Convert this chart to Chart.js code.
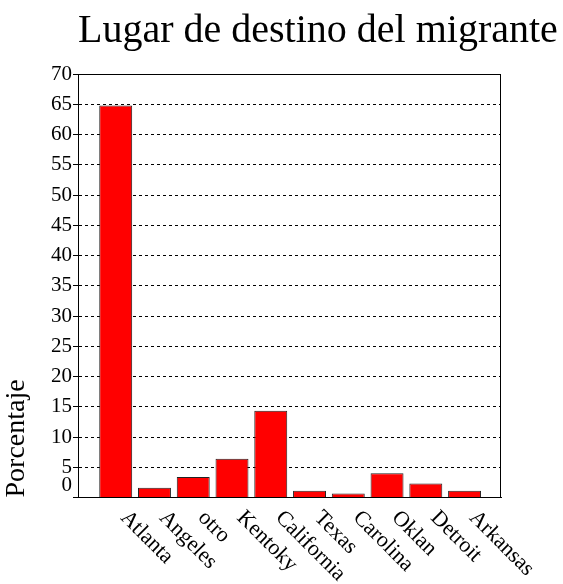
<!DOCTYPE html>
<html><head><meta charset="utf-8">
<script src="https://cdn.jsdelivr.net/npm/chart.js@4"></script>
<style>html,body{margin:0;padding:0;background:#fff}#wrap{width:563px;height:584px}</style>
</head><body><div id="wrap"><canvas id="c" width="563" height="584"></canvas></div>
<script>
const categories = ['Atlanta','Angeles','otro','Kentoky','California','Texas','Carolina','Oklan','Detroit','Arkansas'];
const percentages = [64.8, 1.6, 3.4, 6.4, 14.35, 1.1, 0.65, 4.0, 2.3, 1.1];
const yTickValues = [0,5,10,15,20,25,30,35,40,45,50,55,60,65,70];
const titleText = 'Lugar de destino del migrante';
const yTitle = 'Porcentaje';

const FONT = '"Liberation Serif", "Times New Roman", serif';

const extras = {
  id: 'extras',
  afterDraw(chart) {
    const {ctx, chartArea: {left, right, top, bottom}, scales: {x, y}} = chart;
    ctx.save();
    ctx.strokeStyle = '#000';
    ctx.lineWidth = 1;
    ctx.setLineDash([]);
    const yt = Math.round(y.getPixelForValue(yTickValues[yTickValues.length - 1])) + 0.5;
    const xr = Math.round(right) - 0.5;
    ctx.beginPath();
    ctx.moveTo(left, yt); ctx.lineTo(xr, yt); ctx.lineTo(xr, bottom);
    ctx.stroke();
    // main title
    ctx.fillStyle = '#000';
    ctx.font = '40px ' + FONT;
    ctx.textAlign = 'left';
    ctx.textBaseline = 'alphabetic';
    ctx.fillText(titleText, left, 42);
    // x labels, rotated clockwise
    ctx.font = '22px ' + FONT;
    ctx.textAlign = 'left';
    ctx.textBaseline = 'middle';
    categories.forEach((c, i) => {
      const px = x.getPixelForValue(i);
      ctx.save();
      ctx.translate(px + 8, bottom + 17);
      ctx.rotate(Math.PI / 4);
      ctx.fillText(c, 0, 0);
      ctx.restore();
    });
    // zero label (raised, as in the original)
    ctx.font = '21px ' + FONT;
    ctx.textAlign = 'right';
    ctx.fillText(String(yTickValues[0]), left - 6, y.getPixelForValue(yTickValues[0]) - 12.5);
    ctx.restore();
  }
};

new Chart(document.getElementById('c'), {
  type: 'bar',
  data: {
    datasets: [{
      data: categories.map((c, i) => ({x: i, y: percentages[i]})),
      backgroundColor: '#ff0000',
      borderColor: '#222222',
      borderWidth: 1,
      barPercentage: 0.85,
      categoryPercentage: 1
    }]
  },
  options: {
    responsive: false,
    animation: false,
    layout: {padding: {left: 0, right: 62, top: 74, bottom: 0}},
    plugins: {
      legend: {display: false},
      tooltip: {enabled: false},
      title: {display: false}
    },
    scales: {
      x: {
        type: 'linear',
        offset: false,
        min: -0.973,
        max: 9.94,
        afterBuildTicks: s => { s.ticks = categories.map((c, i) => ({value: i})); },
        grid: {display: false},
        border: {display: true, color: '#000', width: 1},
        ticks: {display: false},
        afterFit: s => { s.height = 86.5; }
      },
      y: {
        min: 0,
        max: 70,
        afterBuildTicks: s => { s.ticks = yTickValues.map(v => ({value: v})); },
        ticks: {
          stepSize: 5,
          color: '#000',
          padding: 1,
          font: {family: FONT, size: 21},
          callback: v => (v === 0 ? '' : String(v))
        },
        grid: {color: '#000', lineWidth: 1, tickLength: 5, tickColor: '#000'},
        border: {display: true, color: '#000', width: 1, dash: [3, 3]},
        title: {
          display: true,
          text: yTitle,
          align: 'start',
          color: '#000',
          font: {family: FONT, size: 28, lineHeight: 1.2},
          padding: {top: 0, bottom: 0}
        },
        afterFit: s => { s.width = 78; }
      }
    }
  },
  plugins: [extras]
});
</script>
</body></html>
